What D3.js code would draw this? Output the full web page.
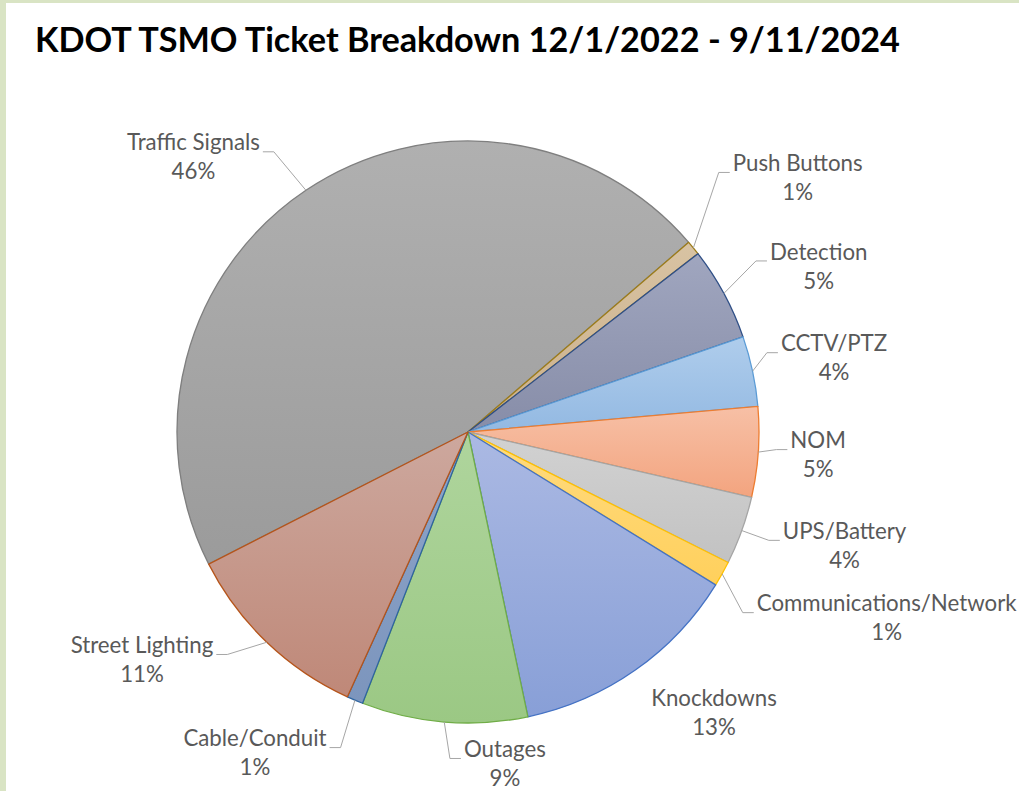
<!DOCTYPE html>
<html>
<head>
<meta charset="utf-8">
<script src="https://cdn.jsdelivr.net/npm/d3@7"></script>
<style>
  html, body { margin: 0; padding: 0; background: #fff; }
  svg { display: block; }
  .title { font-family: Lato, "Open Sans", sans-serif; font-weight: bold; fill: #000; }
  .lbl { font-family: Lato, "Open Sans", sans-serif; fill: #595959; }
  .leader { fill: none; stroke: #a6a6a6; stroke-width: 1; }
</style>
</head>
<body>
<div id="chart"></div>
<script>
// categories and their share of tickets (percent), clockwise from the Traffic Signals slice
const categories = ['Traffic Signals', 'Push Buttons', 'Detection', 'CCTV/PTZ', 'NOM', 'UPS/Battery',
  'Communications/Network', 'Knockdowns', 'Outages', 'Cable/Conduit', 'Street Lighting'];
const shares = [46.2, 0.8, 5.2, 3.9, 5.0, 3.8, 1.4, 12.9, 9.2, 0.9, 10.7];

// slice colours: top of gradient, bottom of gradient, outline
const fillTop = ['#b0b0b0', '#d8c3a3', '#a0a6bf', '#afcdec', '#f7c0a6', '#d2d2d2', '#ffdb80', '#abb9e3', '#afd59d', '#8ea5c9', '#cda89e'];
const fillBottom = ['#9b9b9b', '#cbb08a', '#878da8', '#93b9e2', '#f3a47f', '#c2c2c2', '#ffd05c', '#889fd7', '#9bc884', '#7c95bd', '#bf8878'];
const outline = ['#7f7f7f', '#9c7c1a', '#2f4f86', '#5b9bd5', '#ed7d31', '#a5a5a5', '#ffc000', '#4472c4', '#70ad47', '#2e64a0', '#b5541a'];

// label placement: angle (deg, clockwise from top) and distance of the label centre from the pie centre
const labelAngle = [314.8, 52.6, 65.0, 78.9, 94.1, 107.1, 114.2, 139.0, 173.7, 213.4, 234.8];
const labelDist = [387, 415, 387, 373, 351, 394, 459, 375, 336, 387, 399];
const showLeader = [true, true, true, true, true, true, true, false, true, true, true];

const W = 1019, H = 791;
const cx = 468, cy = 432, radius = 291;
const startDeg = 243;

const svg = d3.select('#chart').append('svg')
    .attr('width', W)
    .attr('height', H);

// light green frame of the screenshot
svg.append('rect').attr('x', 0).attr('y', 0).attr('width', W).attr('height', H).attr('fill', '#d9e4c4');
svg.append('rect').attr('x', 6).attr('y', 3).attr('width', W - 6).attr('height', H - 3).attr('fill', '#fff');

// fit a text element's font size so it spans the given width
function fitWidth(sel, width) {
  sel.style('font-size', '100px');
  const size = 100 * width / sel.node().getComputedTextLength();
  sel.style('font-size', size + 'px');
  return size;
}

const title = svg.append('text')
    .attr('class', 'title')
    .attr('x', 35)
    .attr('y', 52)
    .text('KDOT TSMO Ticket Breakdown 12/1/2022 - 9/11/2024');
fitWidth(title, 865);

// label font size taken from the width of the "Traffic Signals" label
const probe = svg.append('text').attr('class', 'lbl').text(categories[0]);
const labelSize = fitWidth(probe, 133);
probe.remove();

const data = categories.map((c, i) => ({name: c, value: shares[i], i: i}));
const total = d3.sum(shares);
const pct = d3.format('.0%');

const rad = Math.PI / 180;
const pie = d3.pie()
    .sort(null)
    .value(d => d.value)
    .startAngle(startDeg * rad)
    .endAngle((startDeg + 360) * rad);

const arc = d3.arc()
    .innerRadius(0)
    .outerRadius(radius);

const defs = svg.append('defs');
data.forEach((d, i) => {
  const g = defs.append('linearGradient')
      .attr('id', 'grad' + i)
      .attr('x1', 0).attr('y1', 0).attr('x2', 0).attr('y2', 1);
  g.append('stop').attr('offset', '0%').attr('stop-color', fillTop[i]);
  g.append('stop').attr('offset', '100%').attr('stop-color', fillBottom[i]);
});

const pieG = svg.append('g')
    .attr('transform', 'translate(' + cx + ',' + cy + ')');

const arcs = pie(data);

pieG.selectAll('path.slice')
    .data(arcs)
  .enter().append('path')
    .attr('class', 'slice')
    .attr('d', arc)
    .attr('fill', d => 'url(#grad' + d.index + ')')
    .attr('stroke', d => outline[d.index])
    .attr('stroke-width', 1.3)
    .attr('stroke-linejoin', 'round');

// data labels with leader lines
const lineGap = 29;

const labelG = pieG.selectAll('g.label')
    .data(arcs)
  .enter().append('g')
    .attr('class', 'label');

labelG.each(function(d) {
  const i = d.index;
  const a = labelAngle[i] * rad;
  const lx = Math.sin(a) * labelDist[i];
  const ly = -Math.cos(a) * labelDist[i];
  const g = d3.select(this);

  const name = g.append('text')
      .attr('class', 'lbl')
      .attr('x', lx)
      .attr('y', ly - lineGap / 2)
      .attr('text-anchor', 'middle')
      .attr('dominant-baseline', 'middle')
      .style('font-size', labelSize + 'px')
      .text(d.data.name);

  g.append('text')
      .attr('class', 'lbl')
      .attr('x', lx)
      .attr('y', ly + lineGap / 2)
      .attr('text-anchor', 'middle')
      .attr('dominant-baseline', 'middle')
      .style('font-size', labelSize + 'px')
      .text(pct(d.data.value / total));

  if (!showLeader[i]) return;

  const mid = (d.startAngle + d.endAngle) / 2;
  const ax = Math.sin(mid) * radius;
  const ay = -Math.cos(mid) * radius;
  const halfW = name.node().getComputedTextLength() / 2;
  const side = lx > 0 ? 1 : -1;
  const edgeX = lx - side * (halfW + 3);
  const lineY = ly - lineGap / 2 + 7;
  const elbowX = edgeX - side * 11;

  g.insert('path', 'text')
      .attr('class', 'leader')
      .attr('d', d3.line()([[ax, ay], [elbowX, lineY], [edgeX, lineY]]));
});
</script>
</body>
</html>
